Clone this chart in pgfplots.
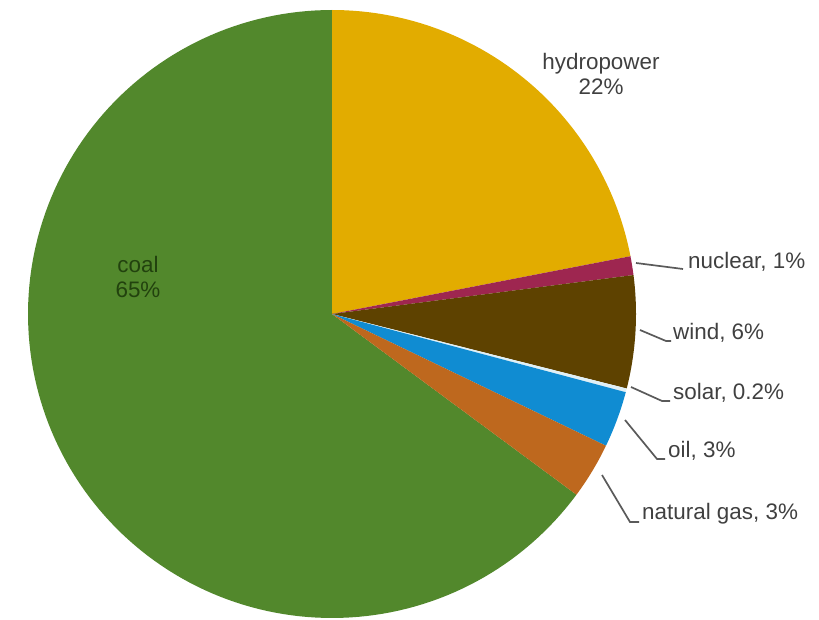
\documentclass[border=0pt]{standalone}
\usepackage{pgfplots}
\pgfplotsset{compat=1.18}
\usepackage{fontspec}
\setmainfont{Liberation Sans}

\definecolor{coalc}{RGB}{82,136,44}
\definecolor{hydroc}{RGB}{226,172,0}
\definecolor{nuclc}{RGB}{158,38,80}
\definecolor{windc}{RGB}{94,66,0}
\definecolor{solarc}{RGB}{225,240,246}
\definecolor{oilc}{RGB}{16,140,210}
\definecolor{gasc}{RGB}{190,104,30}
\definecolor{lblc}{RGB}{64,64,64}
\definecolor{coallbl}{RGB}{34,66,14}
\definecolor{leadc}{RGB}{90,90,90}

\tikzset{
  lbl/.style={font=\fontsize{22.5}{26}\selectfont, text=lblc, inner sep=0pt},
  leader/.style={draw=leadc, line width=1.7bp},
}

% pie geometry (axis units = bp)
\def\cx{332}
\def\cy{314}
\def\rad{304}
\def\total{100.2}

% one wedge: #1 = share before it, #2 = its share (percent), #3 = colour
\newcommand{\slice}[3]{%
  \pgfmathsetmacro\angA{90-(#1)/\total*360}%
  \pgfmathsetmacro\angB{90-(#1+#2)/\total*360}%
  \edef\doslice{\noexpand\addplot[fill=#3, draw=none, domain=\angB:\angA, samples=150, variable=\noexpand\t]
    ({\cx+\rad*cos(\noexpand\t)}, {\cy-\rad*sin(\noexpand\t)}) -- (axis cs:\cx,\cy) -- cycle;}%
  \doslice
}

\begin{document}
\begin{tikzpicture}
\begin{axis}[
  scale only axis, width=819bp, height=620bp,
  xmin=0, xmax=819, ymin=0, ymax=620, y dir=reverse,
  hide axis, clip=false,
]
% keep the full canvas in the bounding box
\path (rel axis cs:0,0) rectangle (rel axis cs:1,1);

% shares in percent, clockwise from the top
\slice{35.2}{65}{coalc}
\slice{0}{22}{hydroc}
\slice{22}{1}{nuclc}
\slice{23}{6}{windc}
\slice{29}{0.2}{solarc}
\slice{29.2}{3}{oilc}
\slice{32.2}{3}{gasc}

% leader lines
\addplot[leader, no marks] coordinates {(636,263) (683,269)};
\addplot[leader, no marks] coordinates {(640,330) (666,341) (671,341)};
\addplot[leader, no marks] coordinates {(631,387) (662,401) (670,401)};
\addplot[leader, no marks] coordinates {(625,420) (657,459) (665,459)};
\addplot[leader, no marks] coordinates {(602,475) (630,522) (639,522)};

% labels
\node[lbl, anchor=base] at (axis cs:601,70) {hydropower};
\node[lbl, anchor=base] at (axis cs:601,95) {22\%};
\node[lbl, anchor=base, text=coallbl] at (axis cs:138,273) {coal};
\node[lbl, anchor=base, text=coallbl] at (axis cs:138,298) {65\%};
\node[lbl, anchor=base west] at (axis cs:688,269) {nuclear, 1\%};
\node[lbl, anchor=base west] at (axis cs:673,340) {wind, 6\%};
\node[lbl, anchor=base west] at (axis cs:673,400) {solar, 0.2\%};
\node[lbl, anchor=base west] at (axis cs:668,458) {oil, 3\%};
\node[lbl, anchor=base west] at (axis cs:642,520) {natural gas, 3\%};
\end{axis}
\end{tikzpicture}
\end{document}
